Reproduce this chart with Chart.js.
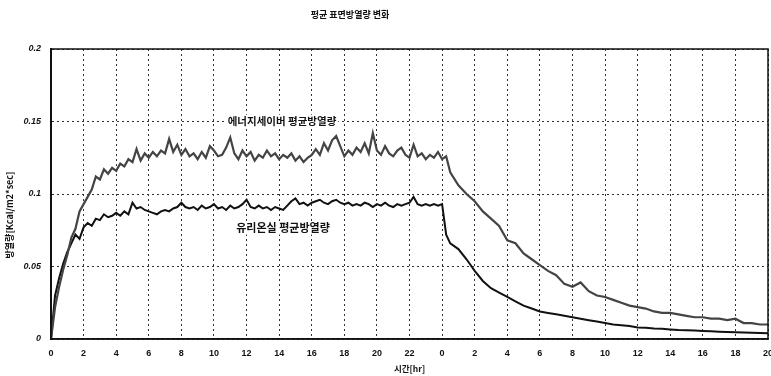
<!DOCTYPE html>
<html><head><meta charset="utf-8">
<script src="https://cdn.jsdelivr.net/npm/chart.js@4/dist/chart.umd.min.js"></script>
<style>html,body{margin:0;padding:0;background:#fff}#wrap{width:771px;height:376px}</style>
</head><body><div id="wrap"><canvas id="c" width="771" height="376"></canvas></div>
<script>
const titleText = '평균 표면방열량 변화';
const yTitle = '방열량[Kcal/m2*sec]';
const xTitle = '시간[hr]';
const seriesNames = ['에너지세이버 평균방열량', '유리온실 평균방열량'];
const xTickLabels = ['0','2','4','6','8','10','12','14','16','18','20','22','0','2','4','6','8','10','12','14','16','18','20'];
const yTickLabels = ['0','0.05','0.1','0.15','0.2'];
const hours = [
 0,0.25,0.5,0.75,1,1.25,1.5,1.75,2,2.25,2.5,2.75,3,3.25,3.5,3.75,4,4.25,4.5,4.75,
 5,5.25,5.5,5.75,6,6.25,6.5,6.75,7,7.25,7.5,7.75,8,8.25,8.5,8.75,9,9.25,9.5,9.75,
 10,10.25,10.5,10.75,11,11.25,11.5,11.75,12,12.25,12.5,12.75,13,13.25,13.5,13.75,14,14.25,14.5,14.75,
 15,15.25,15.5,15.75,16,16.25,16.5,16.75,17,17.25,17.5,17.75,18,18.25,18.5,18.75,19,19.25,19.5,19.75,
 20,20.25,20.5,20.75,21,21.25,21.5,21.75,22,22.25,22.5,22.75,23,23.25,23.5,23.75,24,24.25,24.5,
 25,25.5,26,26.5,27,27.5,28,28.5,29,29.5,30,30.5,31,31.5,32,32.5,33,33.5,34,34.5,
 35,35.5,36,36.5,37,37.5,38,38.5,39,39.5,40,40.5,41,41.5,42,42.5,43,43.5,44
];
const energySaver = [
 0,0.022,0.036,0.048,0.058,0.070,0.076,0.088,0.093,0.098,0.103,0.112,0.110,0.117,0.114,0.118,0.116,0.121,0.119,0.124,
 0.122,0.131,0.123,0.128,0.125,0.129,0.126,0.130,0.128,0.138,0.129,0.134,0.127,0.131,0.126,0.128,0.124,0.129,0.125,0.133,
 0.130,0.126,0.127,0.132,0.139,0.128,0.124,0.130,0.126,0.129,0.123,0.127,0.125,0.130,0.126,0.128,0.124,0.127,0.125,0.128,
 0.123,0.126,0.122,0.125,0.127,0.131,0.127,0.135,0.130,0.137,0.140,0.133,0.126,0.130,0.127,0.132,0.129,0.135,0.128,0.142,
 0.130,0.127,0.133,0.128,0.126,0.130,0.132,0.127,0.125,0.134,0.126,0.128,0.124,0.127,0.125,0.129,0.124,0.126,0.115,
 0.106,0.100,0.095,0.088,0.083,0.078,0.068,0.066,0.059,0.055,0.051,0.047,0.044,0.038,0.036,0.039,0.033,0.030,0.029,0.027,
 0.025,0.023,0.022,0.021,0.019,0.018,0.018,0.017,0.016,0.015,0.015,0.014,0.014,0.013,0.014,0.011,0.011,0.010,0.010
];
const glassHouse = [
 0,0.030,0.042,0.052,0.060,0.066,0.072,0.069,0.077,0.080,0.078,0.083,0.082,0.086,0.084,0.085,0.087,0.085,0.088,0.086,
 0.094,0.090,0.091,0.089,0.088,0.087,0.086,0.088,0.089,0.088,0.090,0.091,0.094,0.091,0.090,0.091,0.089,0.092,0.090,0.091,
 0.093,0.090,0.091,0.089,0.092,0.090,0.091,0.093,0.096,0.091,0.090,0.092,0.090,0.091,0.089,0.091,0.090,0.089,0.092,0.095,
 0.097,0.093,0.094,0.092,0.094,0.095,0.096,0.094,0.093,0.095,0.096,0.094,0.093,0.094,0.092,0.093,0.092,0.094,0.093,0.091,
 0.093,0.092,0.094,0.092,0.091,0.093,0.092,0.093,0.094,0.098,0.093,0.092,0.093,0.092,0.093,0.092,0.093,0.072,0.066,
 0.062,0.055,0.047,0.040,0.035,0.032,0.029,0.026,0.023,0.021,0.019,0.018,0.017,0.016,0.015,0.014,0.013,0.012,0.011,0.010,
 0.0095,0.009,0.008,0.0078,0.0072,0.007,0.0066,0.0062,0.006,0.0058,0.0056,0.0053,0.005,0.0048,0.0046,0.0045,0.0043,0.0042,0.004
];

const KR = '"Noto Sans CJK KR", "Liberation Sans", sans-serif';
const NUM = '"Liberation Sans", Arial, sans-serif';

const decor = {
  id: 'decor',
  afterDraw(chart) {
    const ctx = chart.ctx, a = chart.chartArea;
    ctx.save();
    ctx.strokeStyle = '#111';
    ctx.lineWidth = 1.5;
    ctx.strokeRect(a.left, a.top, a.right - a.left, a.bottom - a.top);
    ctx.fillStyle = '#111';
    ctx.textAlign = 'center';
    ctx.textBaseline = 'middle';
    ctx.font = 'bold 9px ' + KR;
    ctx.fillText(titleText, 350, 15);
    const lab = (txt, cx, cy, size) => {
      ctx.font = 'bold ' + size + 'px ' + KR;
      const w = ctx.measureText(txt).width;
      ctx.fillStyle = '#fff';
      ctx.fillRect(cx - w / 2 - 2, cy - size / 2 - 1, w + 4, size + 2);
      ctx.fillStyle = '#111';
      ctx.fillText(txt, cx, cy);
    };
    lab(seriesNames[0], 282, 121, 10.5);
    lab(seriesNames[1], 283, 228, 11);
    ctx.translate(10, 215);
    ctx.rotate(-Math.PI / 2);
    ctx.font = 'bold 9px ' + KR;
    ctx.fillStyle = '#111';
    ctx.fillText(yTitle, 0, 0);
    ctx.restore();
  }
};

new Chart(document.getElementById('c'), {
  type: 'scatter',
  data: {
    datasets: [
      { label: seriesNames[0], data: hours.map((h, i) => ({x: h, y: energySaver[i]})),
        showLine: true, borderColor: '#444', borderWidth: 2.2, pointRadius: 0, tension: 0 },
      { label: seriesNames[1], data: hours.map((h, i) => ({x: h, y: glassHouse[i]})),
        showLine: true, borderColor: '#111', borderWidth: 2, pointRadius: 0, tension: 0 }
    ]
  },
  options: {
    responsive: false,
    animation: false,
    layout: { padding: { top: 49, right: 3, bottom: 0, left: 0 } },
    plugins: { legend: { display: false }, title: { display: false }, tooltip: { enabled: false } },
    scales: {
      x: {
        type: 'linear', min: 0, max: 44,
        grid: { color: '#333', lineWidth: 1, drawTicks: false },
        border: { display: true, color: '#111', width: 1.5, dash: [2, 3] },
        ticks: { stepSize: 2, padding: 9, color: '#111', maxRotation: 0, autoSkip: false,
          font: { family: NUM, size: 9, weight: 'bold' },
          callback: (v) => xTickLabels[Math.round(v / 2)] },
        title: { display: true, text: xTitle, color: '#111', padding: { top: 0, bottom: 2 },
          font: { family: KR, size: 8.5, weight: 'bold' } },
        afterFit(s) { s.height = 37; s.paddingLeft = 0; s.paddingRight = 0; }
      },
      y: {
        min: 0, max: 0.2,
        grid: { color: '#333', lineWidth: 1, drawTicks: false },
        border: { display: true, color: '#111', width: 2, dash: [2, 3] },
        ticks: { stepSize: 0.05, padding: 10, color: '#111',
          font: { family: NUM, size: 9, weight: 'bold', style: 'italic' },
          callback: (v) => yTickLabels[Math.round(v / 0.05)] },
        afterFit(s) { s.width = 51; s.paddingTop = 0; s.paddingBottom = 0; }
      }
    }
  },
  plugins: [decor]
});
</script>
</body></html>
